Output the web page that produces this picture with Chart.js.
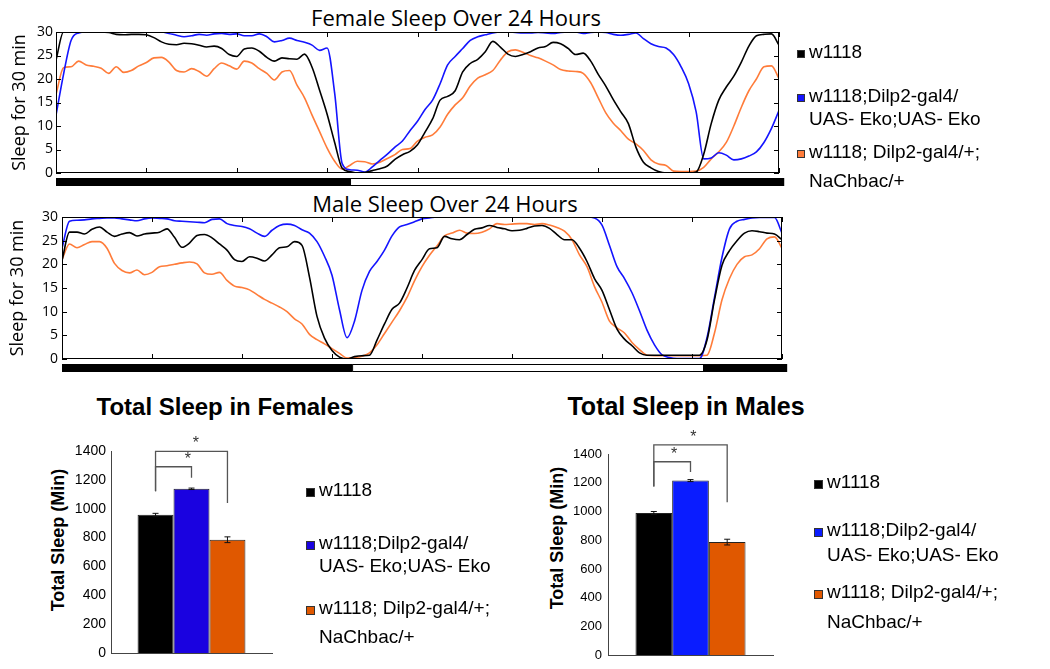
<!DOCTYPE html>
<html>
<head>
<meta charset="utf-8">
<script src="https://cdn.jsdelivr.net/npm/chart.js@4.4.1/dist/chart.umd.min.js"></script>
<style>
  html, body { margin: 0; padding: 0; background: #fff; }
  #page { position: relative; width: 1050px; height: 669px; overflow: hidden; font-family: "Liberation Sans", Arial, sans-serif; color: #000; }
  canvas { position: absolute; }
  .thin-title { position: absolute; font-family: "Open Sans", sans-serif; font-size: 22px; line-height: 26px; white-space: nowrap; transform: translateX(-50%); }
  .bold-title { position: absolute; font-weight: bold; white-space: nowrap; transform: translateX(-50%); }
  .ytitle { position: absolute; font-weight: bold; font-size: 18px; line-height: 22px; white-space: nowrap; transform: translate(-50%, -50%) rotate(-90deg); }
  .lg-line { position: absolute; font-size: 19px; line-height: 22px; white-space: nowrap; }
  .lg-sq { position: absolute; border: 1px solid #333; box-sizing: border-box; }
  .hy { margin-right: 5px; }
</style>
</head>
<body>
<div id="page">
  <div class="thin-title" style="left:456px; top:4px;">Female Sleep Over 24 Hours</div>
  <div class="thin-title" style="left:445px; top:190px;">Male Sleep Over 24 Hours</div>
  <div class="bold-title" style="left:225px; top:393px; font-size:24px; line-height:28px;">Total Sleep in Females</div>
  <div class="bold-title" style="left:686px; top:392px; font-size:25px; line-height:29px;">Total Sleep in Males</div>
  <div class="ytitle" style="left:58px; top:540px;">Total Sleep (Min)</div>
  <div class="ytitle" style="left:557px; top:538px;">Total Sleep (Min)</div>
  <canvas id="femaleLine" width="800" height="195" style="left:0; top:0;"></canvas>
  <canvas id="maleLine" width="800" height="195" style="left:0; top:190px;"></canvas>
  <canvas id="femaleBar" width="290" height="289" style="left:0; top:380px;"></canvas>
  <canvas id="maleBar" width="270" height="289" style="left:520px; top:380px;"></canvas>
</div>
<script>
// sleep (min per 30 min window), sampled every 15 min from 0 h to 24 h
const STEP_H = 0.25;

const femaleW1118 = [
  24, 30, 30, 30, 30, 30, 30, 29.9,
  29.5, 29.4, 29.5, 29.5, 29.4, 28.8, 27.9, 27.4,
  27.3, 27.6, 27.5, 27.2, 26.8, 27.0, 26.5, 25.2,
  24.8, 26.4, 26.6, 25.9, 24.6, 23.8, 24.5, 24.3,
  24.2, 25.3, 22.5, 17.6, 12.5, 6.5, 1.0, 0.3,
  0, 0.1, 0.5, 0.9, 1.5, 2.9, 3.9, 4.6,
  6, 8.7, 11.5, 15.5, 16.3, 17.5, 21.5, 23.3,
  24.2, 25.8, 28, 26.8, 25.3, 24.8, 25.2, 25.8,
  26.6, 26.9, 27.8, 27.5, 26.5, 25.2, 25.5, 23.8,
  21, 18.5, 15.6, 13, 10.5, 5.5, 2.3, 1.1,
  0.3, 0, 0, 0, 0, 0.2, 4, 10.5,
  15.5, 18.3, 20.6, 23.6, 27, 29.2, 29.5, 29.6,
  27.2
];
const femaleEko = [
  12.3, 21, 28.2, 29.8, 30, 30, 30, 30,
  30, 30, 30, 30, 30, 30, 30, 29.7,
  29.3, 29.0, 29.2, 29.5, 29.3, 29.6, 29.7, 29.5,
  29.6, 29.2, 29.2, 29.6, 29.0, 27.9, 28.2, 28.7,
  28.2, 27.8, 27.2, 26.1, 26.6, 17, 2, 0.7,
  0.6, 0.2, 1.3, 2.7, 4.0, 5.5, 6.8, 9,
  11, 13.5, 15.5, 19, 23, 24.8, 26.5, 28.2,
  29, 29.4, 29.8, 30, 30, 29.9, 29.8, 29.8,
  29.9, 29.8, 29.7, 29.9, 30, 30, 29.7, 29.9,
  30, 29.9, 29.5, 29.3, 29.5, 29.8, 28.6, 27.5,
  26.9, 26.6, 25.2, 22.6, 19, 13, 3, 3.2,
  4.3, 3.8, 2.8, 3.0, 3.6, 4.5, 6.5, 9.5,
  13.3
];
const femaleNaChBac = [
  16.7, 22.4, 22.6, 23.8, 23, 22.7, 22.3, 21.2,
  22.6, 21.4, 21.8, 22.8, 23.5, 24.5, 24.6, 23.6,
  21.8, 21.5, 22.2, 21.6, 20.6, 22.2, 23.4, 22.8,
  22.1, 23.8, 23.4, 22.2, 21.2, 19.8, 21.5, 21.8,
  18.7, 16, 12.3, 8.8, 5.3, 2.5, 0.8, 1.6,
  2.5, 2.4, 1.9, 2.3, 3.1, 3.9, 5.0, 5.2,
  6.8, 7.6, 8.1, 9.8, 12.5, 14.5, 16, 18.5,
  20.2, 20.9, 21.8, 24, 25.8, 26.2, 25.7, 25,
  24.5, 23.8, 23, 22, 21.7, 21.6, 21.2, 19.2,
  16, 12.8, 10.6, 9, 7.2, 6.2, 4.8, 2.8,
  1.9, 1.6, 0.4, 0.3, 0.3, 0.4, 1.2, 3,
  4.5, 6.5, 10, 14, 17.5, 20, 22.6, 22.8,
  20.1
];
const maleW1118 = [
  20.8, 26.8, 26.8, 26.4, 27.4, 27.9, 26.8, 25.9,
  26.4, 26.7, 26, 26.4, 26.6, 26.8, 27.5, 25.7,
  23.6, 24.5, 26.1, 26.3, 25.6, 24.3, 23, 21,
  20.6, 21.6, 21.3, 20.7, 22, 23.5, 23.7, 24.8,
  24, 17.3, 9, 4.4, 1.8, 0.4, 0, 0.5,
  0.7, 0.8, 4, 7.4, 10.5, 11.8, 15, 18.7,
  21, 23.3, 23.5, 25.9, 25.4, 25.2, 26.3, 27.4,
  27.7, 28.2, 27.8, 27.5, 27.1, 27.2, 27.6, 28.1,
  28.2, 27.6, 26.3, 25.2, 25.2, 23.4, 20.6, 17,
  14.5, 10.4, 6.3, 4.2, 2.8, 1.3, 0.8, 0.8,
  0.8, 0.8, 0.8, 0.8, 0.8, 0.8, 4, 12.5,
  19.8, 22.9, 25, 26.6, 27.1, 26.9, 26.6, 26.4,
  25.2
];
const maleEko = [
  23.4, 29.1, 29.3, 29.4, 29.6, 29.7, 29.8, 29.8,
  29.6, 29.4, 29.2, 29.6, 29.8, 29.7, 29.6, 29.2,
  29.1, 29.0, 28.9, 28.8, 29.5, 29.6, 28.6, 28.2,
  28.0, 27.5, 26.6, 25.9, 27.2, 28.2, 28.5, 28.2,
  27.3, 26.6, 24.8, 21.7, 17.7, 10.4, 4.5, 8,
  14.5, 18.5, 20.6, 23, 26, 27.9, 28.4, 29,
  29.6, 29.8, 30, 30, 30, 30, 30, 30,
  30, 30, 30, 30, 30, 30, 30, 30,
  30, 30, 30, 30, 30, 30, 30, 29.8,
  28.3, 24, 19.5, 17, 14, 10.2, 6.1, 3,
  0.9, 0.3, 0.1, 0.1, 0.1, 0.1, 4.5, 13,
  21.5, 27.5, 29.1, 29.5, 29.8, 29.9, 29.9, 29.9,
  26.6
];
const maleNaChBac = [
  21, 24.3, 23.5, 24.2, 24.8, 24.8, 23.4, 20.2,
  18.7, 18.2, 18.8, 17.8, 18.3, 19.5, 19.7, 20,
  20.3, 20.5, 20.1, 18.2, 17.9, 18.3, 16.6, 15.4,
  15.1, 14.6, 13.6, 12.6, 11.8, 11, 10, 8.5,
  7.4, 5.2, 4.1, 3.2, 2.2, 1.2, 0.2, 0.3,
  0.6, 1.3, 3, 5.4, 7.8, 10.2, 13, 16.5,
  19.5, 21.9, 23.9, 26, 26.6, 27.2, 26.6, 26.5,
  26.8, 27.5, 28.6, 28.4, 28.5, 28.6, 28.6, 28.4,
  28.6, 28.3, 27.8, 27, 25.2, 22, 19.5, 15.3,
  12, 8, 6.6, 5.5, 3.5, 2, 0.8, 0.7,
  0.7, 0.7, 0.7, 0.7, 0.7, 0.7, 0.8, 5.5,
  12.5, 17, 20, 21.6, 22, 23.3, 25.4, 25.8,
  23.4
];

// light/dark schedule under each trace (hours)
const femaleLightPhases = [
  { from: 0, to: 9.76, dark: true },
  { from: 9.76, to: 21.41, dark: false },
  { from: 21.41, to: 24.17, dark: true }
];
const maleLightPhases = [
  { from: 0, to: 9.67, dark: true },
  { from: 9.67, to: 21.4, dark: false },
  { from: 21.4, to: 24.17, dark: true }
];

const groupNames = [
  ['w1118'],
  ['w1118;Dilp2-gal4/', 'UAS-Eko;UAS-Eko'],
  ['w1118; Dilp2-gal4/+;', 'NaChbac/+']
];
const lineColors = ['#000000', '#1414ff', '#ff7c3a'];
const femaleBarColors = ['#000000', '#1a02e0', '#e05800'];
const maleBarColors = ['#000000', '#0a1cff', '#e05800'];

// total sleep (min) and SEM
const femaleTotal = [958, 1138, 785];
const femaleSem = [10, 5, 20];
const maleTotal = [990, 1215, 787];
const maleSem = [10, 7, 20];

// significance brackets: legs from bar a to bar b, heights in minutes
const femaleSig = [
  { a: 0, b: 1, left: 1121, right: 1215, top: 1291, star: 0.9 },
  { a: 0, b: 2, left: 1121, right: 1040, top: 1398, star: 0.56 }
];
const maleSig = [
  { a: 0, b: 1, left: 1174, right: 1275, top: 1346, star: 0.55 },
  { a: 0, b: 2, left: 1174, right: 1064, top: 1463, star: 0.54 }
];

Chart.defaults.font.family = '"Liberation Sans", Arial, sans-serif';
Chart.defaults.color = '#000';

// box around the plot with inward tick marks on all four sides
const frameTicks = {
  id: 'frameTicks',
  afterDraw(chart) {
    const { ctx, chartArea: a, scales: { x, y } } = chart;
    ctx.save();
    ctx.strokeStyle = '#000';
    ctx.lineWidth = 1;
    ctx.strokeRect(Math.round(a.left) + 0.5, Math.round(a.top) + 0.5, Math.round(a.width) - 1, Math.round(a.height) - 1);
    ctx.beginPath();
    x.ticks.forEach(t => {
      const px = Math.round(x.getPixelForValue(t.value)) + 0.5;
      ctx.moveTo(px, a.bottom); ctx.lineTo(px, a.bottom - 5);
      ctx.moveTo(px, a.top); ctx.lineTo(px, a.top + 5);
    });
    y.ticks.forEach(t => {
      const py = Math.round(y.getPixelForValue(t.value)) + 0.5;
      ctx.moveTo(a.left, py); ctx.lineTo(a.left + 5, py);
      ctx.moveTo(a.right, py); ctx.lineTo(a.right - 5, py);
    });
    ctx.stroke();
    ctx.restore();
  }
};

// black/white light schedule bar below the x axis
const lightBar = {
  id: 'lightBar',
  afterDraw(chart, args, opts) {
    const { ctx, chartArea: a, scales: { x } } = chart;
    const top = a.bottom + opts.gap;
    ctx.save();
    ctx.strokeStyle = '#000';
    ctx.lineWidth = 1;
    opts.phases.forEach(p => {
      const x0 = x.getPixelForValue(p.from), x1 = x.getPixelForValue(p.to);
      ctx.fillStyle = p.dark ? '#000' : '#fff';
      ctx.fillRect(x0, top, x1 - x0, opts.height);
      ctx.strokeRect(x0 + 0.5, top + 0.5, x1 - x0 - 1, opts.height - 1);
    });
    ctx.restore();
  }
};

const errorBars = {
  id: 'errorBars',
  afterDatasetsDraw(chart, args, opts) {
    const { ctx, scales: { y } } = chart;
    ctx.save();
    ctx.strokeStyle = '#111';
    ctx.lineWidth = 1;
    chart.data.datasets.forEach((ds, i) => {
      const bar = chart.getDatasetMeta(i).data[0];
      const v = ds.data[0], e = opts.sems[i];
      const hi = y.getPixelForValue(v + e), lo = y.getPixelForValue(v - e);
      ctx.beginPath();
      ctx.moveTo(bar.x, hi); ctx.lineTo(bar.x, lo);
      ctx.moveTo(bar.x - 3, hi); ctx.lineTo(bar.x + 3, hi);
      ctx.moveTo(bar.x - 3, lo); ctx.lineTo(bar.x + 3, lo);
      ctx.stroke();
    });
    ctx.restore();
  }
};

const sigBrackets = {
  id: 'sigBrackets',
  afterDraw(chart, args, opts) {
    const { ctx, scales: { y } } = chart;
    ctx.save();
    ctx.strokeStyle = '#555';
    ctx.lineWidth = 1.3;
    ctx.fillStyle = '#333';
    ctx.font = '16px "Liberation Sans"';
    ctx.textAlign = 'center';
    opts.pairs.forEach(p => {
      const xa = chart.getDatasetMeta(p.a).data[0].x;
      const xb = chart.getDatasetMeta(p.b).data[0].x;
      const yt = y.getPixelForValue(p.top);
      ctx.beginPath();
      ctx.moveTo(xa, y.getPixelForValue(p.left));
      ctx.lineTo(xa, yt);
      ctx.lineTo(xb, yt);
      ctx.lineTo(xb, y.getPixelForValue(p.right));
      ctx.stroke();
      ctx.fillText('*', xa + (xb - xa) * p.star, yt - 3);
    });
    ctx.restore();
  }
};

function lineChart(id, series, phases, geo) {
  const ctx = document.getElementById(id).getContext('2d');
  return new Chart(ctx, {
    type: 'line',
    data: {
      datasets: series.map((vals, i) => ({
        label: groupNames[i].join(' '),
        data: vals.map((v, k) => ({ x: k * STEP_H, y: v })),
        borderColor: lineColors[i],
        borderWidth: 1.6,
        pointRadius: 0,
        cubicInterpolationMode: 'monotone'
      }))
    },
    options: {
      responsive: false,
      animation: false,
      layout: { padding: { top: geo.top, right: geo.right, left: 0, bottom: 0 } },
      plugins: {
        legend: { display: false },
        tooltip: { enabled: false },
        lightBar: { phases: phases, gap: 5, height: 8 }
      },
      scales: {
        x: {
          type: 'linear', min: 0, max: 24,
          ticks: { display: false, stepSize: 3 },
          grid: { display: false, drawTicks: false },
          border: { display: false },
          afterFit: s => { s.height = geo.xh; }
        },
        y: {
          min: 0, max: 30,
          ticks: { stepSize: 5, color: '#000', padding: geo.tickPad, font: { family: '"Open Sans"', size: 14 } },
          grid: { display: false, drawTicks: false },
          border: { display: false },
          title: {
            display: true, text: 'Sleep for 30 min', color: '#000',
            font: { family: '"Open Sans"', size: 18 },
            padding: { top: geo.titlePad, bottom: 0 }
          },
          afterFit: s => { s.width = geo.yw; }
        }
      }
    },
    plugins: [frameTicks, lightBar]
  });
}

function barChart(id, totals, sems, sig, colors, geo) {
  const ctx = document.getElementById(id).getContext('2d');
  return new Chart(ctx, {
    type: 'bar',
    data: {
      labels: [''],
      datasets: totals.map((v, i) => ({
        label: groupNames[i].join(' '),
        data: [v],
        backgroundColor: colors[i],
        borderColor: '#222',
        borderWidth: 1,
        categoryPercentage: geo.cat,
        barPercentage: 1
      }))
    },
    options: {
      responsive: false,
      animation: false,
      layout: { padding: { top: geo.top, right: geo.right, left: 0, bottom: 0 } },
      plugins: {
        legend: { display: false },
        tooltip: { enabled: false },
        errorBars: { sems: sems },
        sigBrackets: { pairs: sig }
      },
      scales: {
        x: {
          ticks: { display: false },
          grid: { display: false, drawTicks: false },
          border: { display: true, color: '#444' },
          afterFit: s => { s.height = geo.xh; }
        },
        y: {
          min: 0, max: 1400,
          ticks: {
            stepSize: 200, color: '#000', padding: geo.tickPad,
            font: { size: geo.tickSize },
            format: { useGrouping: false }
          },
          grid: { display: false, drawTicks: false },
          border: { display: true, color: '#444' },
          afterFit: s => { s.width = geo.yw; }
        }
      }
    },
    plugins: [errorBars, sigBrackets]
  });
}

function legend(spec, colors) {
  const page = document.getElementById('page');
  groupNames.forEach((lines, i) => {
    const sq = document.createElement('div');
    sq.className = 'lg-sq';
    sq.style.left = spec.sqLeft + 'px';
    sq.style.top = (spec.rows[i] - spec.sq / 2 + 2) + 'px';
    sq.style.width = spec.sq + 'px';
    sq.style.height = spec.sq + 'px';
    sq.style.background = colors[i];
    page.appendChild(sq);
    lines.forEach((txt, j) => {
      const el = document.createElement('div');
      el.className = 'lg-line';
      el.style.left = spec.textLeft + 'px';
      el.style.top = (spec.rows[i] + j * spec.gaps[i] - 11) + 'px';
      // the source figure shows a wide gap after each hyphen in "UAS-Eko"
      txt.split(/(?<=UAS-)/).forEach((part, k, arr) => {
        const s = document.createElement('span');
        s.textContent = part;
        if (k < arr.length - 1) s.className = 'hy';
        el.appendChild(s);
      });
      page.appendChild(el);
    });
  });
}

lineChart('femaleLine', [femaleW1118, femaleEko, femaleNaChBac], femaleLightPhases,
  { top: 32, right: 21, xh: 22, yw: 56, tickPad: 3, titlePad: 8.6 });
lineChart('maleLine', [maleW1118, maleEko, maleNaChBac], maleLightPhases,
  { top: 27, right: 18, xh: 26, yw: 62, tickPad: 4, titlePad: 6.6 });

barChart('femaleBar', femaleTotal, femaleSem, femaleSig, femaleBarColors,
  { top: 71, right: 18, xh: 16, yw: 111, cat: 0.67, tickPad: 5, tickSize: 14 });
barChart('maleBar', maleTotal, maleSem, maleSig, maleBarColors,
  { top: 74, right: 17, xh: 13, yw: 88, cat: 0.667, tickPad: 6, tickSize: 13 });

legend({ sqLeft: 797, textLeft: 809, sq: 8, rows: [52, 96, 152], gaps: [0, 23, 29] }, lineColors);
legend({ sqLeft: 306, textLeft: 319, sq: 9, rows: [490, 543, 608], gaps: [0, 23, 29] }, femaleBarColors);
legend({ sqLeft: 814, textLeft: 827, sq: 9, rows: [482, 530, 592], gaps: [0, 25, 30] }, maleBarColors);
</script>
</body>
</html>
